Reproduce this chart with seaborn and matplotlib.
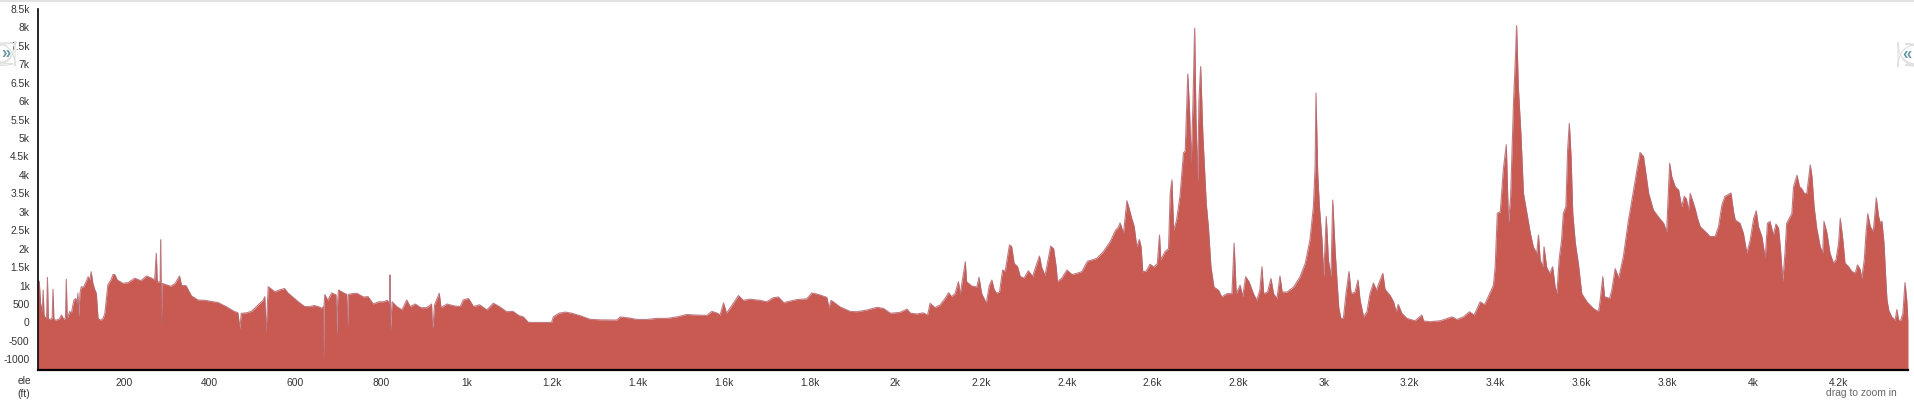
import matplotlib
matplotlib.use("Agg")
import matplotlib.pyplot as plt
from matplotlib.lines import Line2D
from matplotlib.patches import FancyBboxPatch
from matplotlib.ticker import FuncFormatter
import seaborn as sns

# distance along track and elevation (ft)
dist = [0, 3, 6, 10, 12, 14, 16, 20, 22, 24, 28, 33, 35, 37, 43, 50, 55, 60, 64, 66, 68, 74, 78, 81, 84, 88, 91, 93, 95, 98,
        101, 106, 112, 117, 121, 124, 128, 132, 136, 140, 146, 152, 156, 160, 163, 170, 175, 179, 185, 192, 198, 210, 226,
        240, 253, 265, 272, 276, 278, 284, 285, 286, 287, 288, 289, 300, 310, 320, 330, 335, 345, 358, 373, 390, 404, 420,
        439, 459, 466, 471, 474, 486, 498, 513, 525, 529, 532, 537, 545, 552, 563, 575, 583, 591, 607, 622, 635,
        644, 656, 662, 665, 666, 667, 669, 676, 685, 695, 697, 699, 701, 710, 720, 722, 724, 732, 744, 759, 770, 782, 795,
        806, 815, 820, 821, 822, 826, 837, 849, 860, 868, 880, 893, 907, 918, 920, 922, 925, 936, 940, 954, 970, 985, 992,
        1004, 1016, 1030, 1047, 1062, 1075, 1093, 1108, 1121, 1132, 1144, 1170, 1198, 1202, 1215, 1230, 1245, 1265,
        1288, 1311, 1350, 1358, 1380, 1397, 1420, 1443, 1467, 1490, 1513, 1537, 1560, 1572, 1585, 1591, 1599, 1606, 1618,
        1634, 1645, 1661, 1684, 1700, 1715, 1727, 1740, 1747, 1770, 1793, 1805, 1820, 1840, 1845, 1850, 1871, 1894,
        1910, 1933, 1957, 1972, 1988, 2010, 2027, 2035, 2050, 2065, 2075, 2081, 2092, 2104, 2116, 2124, 2131, 2139, 2147,
        2151, 2163, 2166, 2178, 2190, 2195, 2201, 2212, 2219, 2225, 2230, 2236, 2243, 2250, 2256, 2266, 2271, 2277, 2285,
        2291, 2300, 2310, 2320, 2330, 2336, 2341, 2349, 2357, 2362, 2369, 2375, 2378, 2388, 2400, 2412, 2423, 2435, 2448,
        2460, 2470, 2485, 2501, 2513, 2520, 2524,
        2532, 2540, 2545, 2551, 2557, 2563, 2569, 2573, 2577, 2585, 2594, 2603, 2611, 2616, 2619, 2629, 2637, 2641, 2645,
        2649, 2656, 2664, 2672, 2676, 2682, 2686, 2690, 2694, 2698, 2701, 2705, 2708, 2712, 2717, 2725, 2730, 2736, 2743,
        2754, 2761, 2773, 2785, 2790, 2795, 2804, 2810, 2817, 2825, 2835, 2843, 2850, 2855, 2859, 2868, 2876, 2882, 2890,
        2897, 2902, 2913, 2929, 2944, 2956, 2967, 2975, 2979, 2981, 2985, 2989, 2995, 2999, 3005, 3010, 3016, 3020, 3026,
        3034, 3039, 3045, 3051, 3058, 3063, 3072, 3079, 3084, 3092, 3100, 3107, 3115, 3122, 3129, 3137, 3142, 3154,
        3162, 3168, 3173, 3181, 3193, 3212, 3228, 3232, 3247, 3271, 3298, 3310, 3325, 3339, 3350, 3364, 3374, 3383, 3395,
        3399, 3404, 3411, 3418, 3425, 3430, 3435, 3442, 3446, 3449, 3453, 3459, 3465, 3473, 3481, 3488, 3496, 3500, 3504,
        3510, 3513, 3519, 3526, 3533, 3539, 3543, 3548, 3554, 3558, 3564, 3568, 3572, 3576, 3580, 3586, 3593, 3601, 3613,
        3628, 3640, 3644, 3650, 3654, 3666, 3671, 3679, 3687, 3698, 3710, 3722, 3729, 3737, 3745, 3757, 3768, 3776, 3784,
        3792, 3799, 3806, 3811, 3819, 3827, 3834, 3840, 3845, 3850, 3854, 3865, 3871, 3877, 3893, 3900, 3912, 3920, 3928,
        3935, 3949, 3955, 3959, 3970, 3978, 3986, 3994, 4002, 4008, 4013, 4021, 4029, 4034, 4040, 4048, 4054, 4060, 4064,
        4070, 4075, 4079, 4091, 4095, 4103, 4109, 4114, 4120, 4126, 4134, 4138, 4143, 4149, 4157, 4163, 4166, 4173, 4180,
        4188, 4194, 4200, 4204, 4210, 4215, 4223, 4231, 4239, 4244, 4250, 4254, 4260, 4264, 4268, 4274, 4281, 4288, 4293,
        4297, 4301, 4306, 4311, 4313, 4317, 4324, 4332, 4336, 4340, 4345, 4350, 4355, 4359, 4362]

ele = [1150, 1100, 510, 300, 880, 200, 150, 100, 1220, 100, 80, 120, 900, 80, 60, 100, 200, 80, 120, 1170, 100, 300, 250,
       450, 608, 650, 500, 790, 150, 800,
       970, 950, 1100, 1240, 1150, 1377, 1060, 900, 790, 110, 60, 110, 250, 700, 1020, 1150, 1300, 1300, 1150, 1100, 1060,
       1080, 1200, 1130, 1260, 1200, 1150, 1875, 1100, 1100, 1100, 2240, 1000, 0, 1060, 1020, 980, 1060, 1260, 1000, 1000,
       720, 608, 600, 570, 540, 427, 290, 270, -170, 246, 260, 300, 470, 600, 700, -270, 970, 900, 830, 880, 920, 800, 720,
       560, 430, 430,
       460, 420, 380, 420, -1000, 420, 755, 600, 800, 750, -330, 600, 880, 820, 760, -100, 760, 780, 790, 690, 700, 500,
       560, 560, 600, 500, 1290, -220, 560, 430, 340, 610, 430, 500, 400, 400, 500, -170, 0, 480, 790, 400, 500, 450, 430,
       610, 650, 430, 480, 340, 520, 440, 290, 300, 190, 150, 0, 0, 0, 150, 250, 280, 250, 180,
       85, 70, 65, 150, 120, 80, 80, 110, 110, 150, 215, 200, 190, 300, 250, 200, 530, 250, 450, 730, 600, 630, 600, 560,
       670, 690, 530, 560, 620, 640, 800, 760, 680, 400, 600, 420, 300,
       290, 335, 410, 380, 250, 270, 360, 250, 230, 260, 200, 520, 400, 470, 653, 806, 700, 780, 1105, 760, 1648, 1105,
       988, 960, 1223, 790, 518, 1000, 1150, 900, 790, 830, 1422, 1380, 2100, 2060, 1603, 1512, 1250, 1200, 1400, 1250,
       1600, 1800, 1500, 1270, 1750, 2070, 2000, 1500, 1105, 1200, 1420, 1300, 1330, 1380, 1660, 1700, 1740, 1920, 2190,
       2490, 2580, 2700,
       2420, 3300, 3100, 2830, 2600, 2050, 2250, 2050, 1375, 1390, 1580, 1500, 1600, 2370, 1700, 1920, 2000, 3500, 3865,
       2500, 2780, 3450, 4600, 4650, 6740, 5760, 4320, 5900, 7980, 5580, 3820, 6030, 6940, 5130, 3230, 2600, 1510, 960,
       870, 690, 780, 780, 2150, 780, 1010, 700, 1240, 1100, 780, 600, 870, 1510, 780, 820, 1190, 780, 650, 1260, 830,
       820, 960, 1240, 1600, 2240, 3140, 4230, 6220, 4050, 3140, 2240, 1240, 2870, 1690, 1240, 3320, 1870, 420, 110, 110,
       780, 1380, 780, 820, 1150, 600, 150, 290, 780, 1070, 870, 1100, 1330, 900, 730,
       560, 290, 490, 250, 110, 45, 200, 40, 20, 45, 150, 80, 150, 290, 200, 560, 480, 700, 1010, 1510, 2960, 3000, 4150,
       4820, 2680, 3400, 6030, 7120, 8050, 6390, 5130, 3500, 2960, 2420, 2050, 1870, 2370, 1690, 1510, 2050, 1500, 1330,
       1510, 960, 780, 1690, 2240, 2960, 3140, 4680, 5400, 4500, 2960, 2150, 1600, 780, 560, 380, 290, 600, 1240, 700,
       650, 870, 1460, 1200, 1780, 2780, 3590, 4090, 4610, 4500, 3500, 3050, 2920, 2800,
       2690, 2460, 4317, 3950, 3680, 3590, 3130, 3420, 3350, 3040, 3500, 3100, 2820, 2600, 2420, 2330, 2330, 2600, 3190,
       3420, 3510, 3000, 2780, 2690, 2420, 1880, 2240, 2820, 3030, 2600, 2330, 1740, 2690, 2740, 2370, 2670, 2560, 2060,
       1120, 1880, 2690, 2950, 3680, 3990, 3680, 3630, 3500, 3500, 4270, 3950, 3130, 2560, 2060, 1880, 2740, 2420, 1880,
       1610, 1700, 2150, 2820, 2240, 1610, 1520, 1380, 1340, 1560, 1450, 1200, 1700, 2420, 2950, 2600, 2460, 3380, 2900,
       2690, 2750, 2150, 980, 610, 330, 150, 60, 350, 60, 60, 240, 1080, 610, 60]

y_ticks = list(range(-1000, 8501, 500))
x_ticks = list(range(200, 4201, 200))

ymin, ymax = -1290, 8500
xmin, xmax = 0, 4362


def kfmt(v, pos=None):
    if v >= 1000:
        return f"{v / 1000:g}k"
    return str(int(v))


sns.set_style("white")
plt.rcParams["font.family"] = ["Liberation Sans", "DejaVu Sans"]

W, H = 1915, 408
fig = plt.figure(figsize=(W / 100, H / 100), dpi=100)
ax = fig.add_axes([38 / W, 1 - 370 / H, (1908 - 38) / W, (370 - 9) / H])

fill_col = "#c85a52"
edge_col = "#b5656e"
ax.fill_between(dist, ele, ymin, color=fill_col, lw=0)
sns.lineplot(x=dist, y=ele, ax=ax, color=edge_col, lw=0.8, alpha=0.85,
             estimator=None, sort=False, legend=False)

ax.set_xlim(xmin, xmax)
ax.set_ylim(ymin, ymax)
ax.set_yticks(y_ticks)
ax.set_xticks(x_ticks)
ax.xaxis.set_major_formatter(FuncFormatter(kfmt))
ax.yaxis.set_major_formatter(FuncFormatter(kfmt))
ax.set_xlabel("")
ax.set_ylabel("")

for s in ["top", "right"]:
    ax.spines[s].set_visible(False)
ax.spines["left"].set_color("black")
ax.spines["left"].set_linewidth(1.2)
ax.spines["bottom"].set_color("black")
ax.spines["bottom"].set_linewidth(1.6)
ax.tick_params(axis="both", direction="out", length=4, width=1, color="#222222",
               labelsize=7.4, labelcolor="#333333", pad=2)

# unit label bottom-left, hint bottom-right
fig.text(24 / W, 1 - 381 / H, "ele", ha="center", va="center", fontsize=7.4, color="#333333")
fig.text(24 / W, 1 - 394 / H, "(ft)", ha="center", va="center", fontsize=7.4, color="#333333")
fig.text(1897 / W, 1 - 393 / H, "drag to zoom in", ha="right", va="center", fontsize=7.4, color="#666666")

# side toggle buttons (rounded tabs with a soft shadow)
for x0, y0, w, h, sym, tx in [(-10, 43, 25, 21, "»", 6), (1898, 44, 30, 21, "«", 1907)]:
    shadow = FancyBboxPatch((x0 / W, 1 - (y0 + h + 2) / H), w / W, h / H,
                            boxstyle="round,pad=0,rounding_size=0.012", transform=fig.transFigure,
                            fc="#d0d0d0", ec="none", alpha=0.6, mutation_aspect=W / H)
    box = FancyBboxPatch((x0 / W, 1 - (y0 + h) / H), w / W, h / H,
                         boxstyle="round,pad=0,rounding_size=0.012", transform=fig.transFigure,
                         fc="white", ec="#e0e0e0", lw=0.8, mutation_aspect=W / H)
    fig.add_artist(shadow)
    fig.add_artist(box)
    fig.text(tx / W, 1 - (y0 + h / 2) / H, sym, ha="center", va="center", fontsize=12,
             color="#6a9aa6", fontweight="bold")

fig.add_artist(Line2D([0, 1], [0.998, 0.998], color="#e2e2e2", lw=1.5))

fig.savefig("out.png", dpi=100)
